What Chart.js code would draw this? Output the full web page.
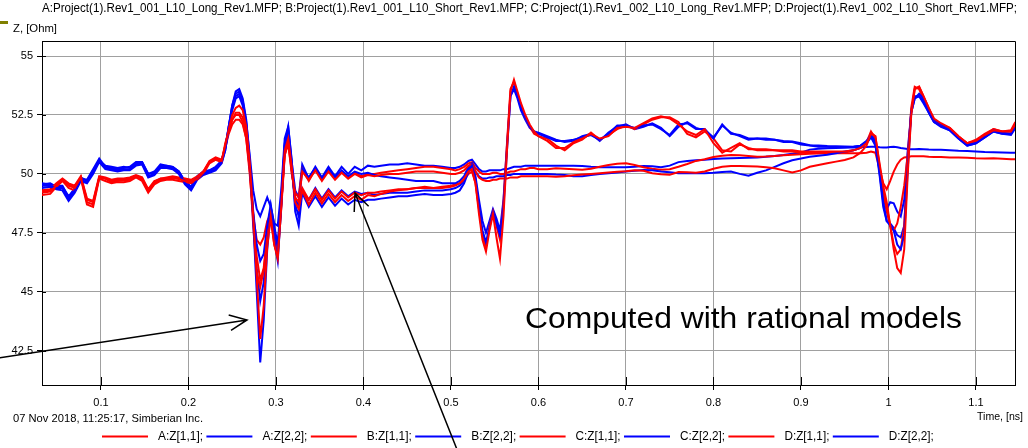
<!DOCTYPE html>
<html>
<head>
<meta charset="utf-8">
<title>TDR impedance</title>
<script src="https://cdn.jsdelivr.net/npm/chart.js@4.4.1/dist/chart.umd.min.js"></script>
<style>
  html, body { margin: 0; padding: 0; background: #fff; }
  canvas { display: block; }
</style>
</head>
<body>
<canvas id="tdr" width="1028" height="448"></canvas>
<script>
/* ── Time axis, ns (denser around the discontinuities) ─────── */
const time = [
  0.032, 0.042, 0.049, 0.056, 0.063, 0.070, 0.077, 0.084, 0.091, 0.098,
  0.105, 0.112, 0.119, 0.126, 0.133, 0.140, 0.147, 0.154, 0.161, 0.168,
  0.175, 0.182, 0.189, 0.196, 0.203, 0.210, 0.217, 0.224, 0.231, 0.238,
  0.242, 0.246, 0.250, 0.254, 0.258, 0.262, 0.266, 0.270, 0.274, 0.278,
  0.282, 0.286, 0.290, 0.294, 0.298, 0.302, 0.306, 0.310, 0.314, 0.318,
  0.322, 0.326, 0.330,
  0.3375, 0.345, 0.3525, 0.36, 0.3675, 0.375, 0.3825, 0.39, 0.3975, 0.405,
  0.4125, 0.42, 0.43, 0.44, 0.45, 0.46, 0.47,
  0.48, 0.49, 0.50, 0.505, 0.51, 0.515, 0.52, 0.524, 0.528, 0.532,
  0.536, 0.54, 0.544, 0.548, 0.552, 0.556, 0.56, 0.564, 0.568, 0.572,
  0.576, 0.58, 0.585, 0.59, 0.595, 0.60,
  0.61, 0.62, 0.63, 0.64, 0.65, 0.66, 0.67, 0.68, 0.69, 0.70,
  0.71, 0.72, 0.73, 0.74, 0.75, 0.76, 0.77, 0.78, 0.79, 0.80,
  0.81, 0.82, 0.83, 0.84, 0.85, 0.86, 0.87, 0.88, 0.89, 0.90,
  0.91, 0.92, 0.93, 0.94, 0.95,
  0.96, 0.968, 0.975, 0.98, 0.985, 0.99, 0.994, 0.998, 1.002, 1.006,
  1.010, 1.014, 1.018, 1.022, 1.026, 1.030, 1.035, 1.040, 1.046, 1.052,
  1.06, 1.07, 1.08, 1.09, 1.10, 1.11, 1.12, 1.13, 1.14, 1.145,
];

/* ── Z, Ohm ─────────────────────────────────────────────────── */
const zA11 = [
  49.2, 49.25, 49.5, 49.75, 49.5, 49.4, 49.85, 48.8, 48.7, 49.85, 49.8, 49.65, 49.7, 49.72, 49.75,
  49.9, 49.75, 49.25, 49.6, 49.75, 49.8, 49.82, 49.78, 49.7, 49.65, 49.8, 50.05, 50.5, 50.65, 50.55,
  51.2, 51.9, 52.5, 52.8, 52.9, 52.7, 52.0, 50.5, 48.2, 45.6, 43.0, 44.4, 46.9, 48.2, 47.0, 46.4,
  48.6, 51.0, 51.5, 50.3, 48.8, 48.5, 49.3,
  48.7, 49.2, 48.75, 49.15, 48.8, 49.1, 48.85, 49.05, 48.9, 49.1, 49.05, 49.15, 49.25, 49.3, 49.35, 49.4, 49.4,
  49.4, 49.4, 49.45, 49.5, 49.6, 49.8, 50.1, 50.2, 49.6, 48.3, 47.2, 46.7, 47.6, 48.3, 47.3, 46.4,
  48.2, 51.0, 53.5, 54.0, 53.5, 53.0, 52.5, 52.1, 51.8, 51.6,
  51.4, 51.1, 51.1, 51.35, 51.5, 51.7, 51.5, 51.6, 51.95, 52.0, 51.95, 52.15, 52.35, 52.45, 52.35,
  52.1, 51.8, 51.65, 51.9, 51.3, 50.9, 51.1, 51.3, 51.05, 51.05, 51.05, 51.0, 51.0, 51.0, 50.95,
  50.95, 50.95, 50.95, 50.95, 50.95,
  51.0, 51.1, 51.3, 51.7, 51.6, 50.4, 49.5, 48.8, 47.8, 46.8, 46.0, 45.8, 46.8, 50.0, 52.5,
  53.6, 53.7, 53.3, 52.8, 52.35, 52.15, 51.95, 51.6, 51.3, 51.4, 51.65, 51.85, 51.8, 51.8, 52.1,
];
const zA22 = [
  49.5, 49.5, 49.4, 49.4, 48.9, 49.3, 49.75, 49.65, 50.1, 50.6, 50.25, 50.2, 50.15, 50.2, 50.2,
  50.4, 50.45, 49.9, 50.0, 50.3, 50.3, 50.25, 50.05, 49.6, 49.35, 49.8, 50.0, 50.1, 50.2, 50.5,
  51.0, 52.0, 52.9, 53.5, 53.6, 53.2, 52.3, 50.6, 48.0, 45.0, 42.0, 43.8, 46.8, 48.4, 47.2, 46.3,
  48.6, 51.2, 52.0, 50.6, 48.4, 47.8, 49.2,
  48.6, 49.05, 48.6, 49.0, 48.65, 48.95, 48.7, 48.9, 48.8, 48.9, 48.9, 48.95, 49.0, 49.05, 49.05, 49.1, 49.15,
  49.1, 49.1, 49.15, 49.2, 49.3, 49.6, 50.1, 50.35, 49.8, 48.6, 47.6, 47.1, 47.7, 48.4, 47.9, 47.4,
  48.6, 51.0, 53.3, 53.7, 53.3, 52.8, 52.4, 52.0, 51.8, 51.7,
  51.55, 51.4, 51.4, 51.45, 51.55, 51.65, 51.45, 51.7, 52.05, 52.05, 51.95, 52.05, 52.1, 51.9, 51.65,
  52.1, 52.15, 51.9, 51.9, 51.5, 52.1, 51.7, 51.65, 51.5, 51.5, 51.5, 51.45, 51.4, 51.38, 51.3,
  51.22, 51.2, 51.18, 51.17, 51.16,
  51.15, 51.2, 51.4, 51.65, 51.4, 50.0, 48.8, 48.0, 47.8, 47.6, 47.0, 46.8, 47.4, 50.2, 52.6,
  53.2, 53.4, 53.2, 52.7, 52.3, 52.1, 51.9, 51.55, 51.25, 51.35, 51.6, 51.85, 51.75, 51.7, 52.0,
];
const zB11 = [
  49.1, 49.15, 49.45, 49.7, 49.4, 49.3, 49.8, 48.7, 48.6, 49.8, 49.7, 49.6, 49.65, 49.65, 49.7,
  49.85, 49.7, 49.2, 49.55, 49.7, 49.75, 49.75, 49.7, 49.65, 49.6, 49.75, 50.0, 50.45, 50.6, 50.5,
  51.3, 51.8, 52.3, 52.6, 52.6, 52.4, 51.7, 50.2, 47.8, 45.8, 45.2, 45.9, 47.3, 48.1, 47.0, 46.5,
  48.5, 50.8, 51.3, 50.1, 49.0, 48.8, 50.1,
  49.75, 50.15, 49.7, 50.1, 49.75, 50.05, 49.8, 50.0, 49.85, 49.95, 49.9, 49.95, 50.0, 50.0, 50.05, 50.1, 50.1,
  50.1, 50.05, 50.0, 50.0, 50.05, 50.15, 50.35, 50.4, 50.1, 49.85, 49.75, 49.7, 49.7, 49.75, 49.75, 49.8,
  49.8, 49.8, 49.85, 49.85, 49.85, 49.9, 49.9, 49.9, 49.9, 49.9,
  49.9, 49.88, 49.9, 49.94, 49.97, 50.0, 50.03, 50.06, 50.09, 50.11, 50.15, 50.13, 50.03, 49.98, 49.96,
  50.08, 50.07, 50.05, 50.1, 50.22, 50.3, 50.33, 50.33, 50.32, 50.31, 50.28, 50.24, 50.15, 50.06, 50.15,
  50.3, 50.38, 50.45, 50.52, 50.59,
  50.7, 50.9, 51.2, 51.75, 51.6, 50.3, 49.2, 48.4, 47.8, 47.6, 47.9, 48.6, 49.5, 50.8, 52.6,
  53.6, 53.7, 53.3, 52.8, 52.3, 52.1, 51.95, 51.6, 51.3, 51.4, 51.65, 51.9, 51.8, 51.8, 52.15,
];
const zB22 = [
  49.4, 49.45, 49.35, 49.3, 48.85, 49.2, 49.7, 49.6, 50.0, 50.5, 50.2, 50.15, 50.1, 50.15, 50.15,
  50.35, 50.4, 49.85, 49.95, 50.25, 50.25, 50.2, 50.0, 49.55, 49.3, 49.75, 49.95, 50.05, 50.15, 50.45,
  51.0, 51.9, 52.7, 53.2, 53.3, 52.9, 52.0, 50.3, 48.4, 47.0, 46.3, 46.6, 47.8, 48.7, 47.8, 47.0,
  49.0, 51.2, 51.6, 50.2, 48.9, 48.7, 50.2,
  49.85, 50.25, 49.8, 50.2, 49.85, 50.15, 49.9, 50.1, 50.0, 50.05, 49.95, 49.9, 49.85, 49.8, 49.75, 49.7, 49.7,
  49.7, 49.6, 49.6, 49.6, 49.7, 49.9, 50.3, 50.45, 50.1, 49.9, 49.8, 49.8, 49.85, 49.85, 49.9, 49.9,
  49.9, 49.95, 49.95, 50.0, 50.0, 50.0, 50.0, 50.0, 50.0, 50.0,
  50.0, 49.97, 49.95, 49.9, 49.9, 49.95, 50.0, 50.03, 50.06, 50.1, 50.13, 50.16, 50.15, 50.1, 50.07,
  50.03, 50.03, 50.03, 50.03, 50.05, 50.08, 50.1, 50.0, 49.92, 50.05, 50.15, 50.3, 50.45, 50.58, 50.65,
  50.73, 50.77, 50.81, 50.88, 50.95,
  51.0, 51.1, 51.3, 51.55, 51.2, 50.2, 49.0, 48.5, 48.8, 48.75, 48.4, 48.2, 48.9, 51.0, 52.6,
  53.2, 53.3, 53.1, 52.6, 52.2, 52.0, 51.85, 51.5, 51.2, 51.3, 51.55, 51.8, 51.7, 51.7, 52.0,
];
const zC11 = [
  49.3, 49.35, 49.6, 49.8, 49.6, 49.5, 49.9, 48.95, 48.85, 49.9, 49.85, 49.75, 49.8, 49.8, 49.85,
  49.95, 49.85, 49.35, 49.7, 49.8, 49.85, 49.9, 49.85, 49.8, 49.75, 49.9, 50.1, 50.55, 50.7, 50.6,
  51.1, 51.7, 52.1, 52.3, 52.3, 52.1, 51.5, 50.2, 48.3, 46.5, 45.5, 46.0, 47.5, 48.3, 47.2, 46.6,
  48.7, 50.9, 51.4, 50.2, 48.9, 48.6, 49.4,
  48.9, 49.35, 48.9, 49.3, 48.95, 49.25, 49.0, 49.2, 49.1, 49.2, 49.2, 49.25, 49.3, 49.35, 49.35, 49.4, 49.45,
  49.4, 49.45, 49.5, 49.55, 49.6, 49.75, 50.0, 50.1, 49.6, 48.5, 47.4, 46.9, 47.8, 48.4, 47.8, 47.2,
  48.8, 51.3, 53.6, 53.9, 53.4, 52.9, 52.4, 52.0, 51.7, 51.6,
  51.5, 51.2, 51.0, 51.3, 51.45, 51.75, 51.45, 51.65, 51.9, 52.05, 51.9, 52.1, 52.3, 52.4, 52.4,
  52.2, 51.7, 51.55, 51.8, 51.5, 51.0, 50.95, 51.25, 51.1, 51.0, 51.0, 51.0, 50.95, 50.95, 50.9,
  50.9, 50.9, 50.9, 50.9, 50.9,
  51.0, 51.1, 51.35, 51.8, 51.5, 50.2, 49.3, 48.6, 47.8, 47.0, 46.6, 46.8, 47.8, 50.4, 52.8,
  53.7, 53.6, 53.2, 52.7, 52.3, 52.1, 51.9, 51.55, 51.3, 51.45, 51.7, 51.9, 51.8, 51.85, 52.2,
];
const zC22 = [
  49.6, 49.55, 49.5, 49.5, 49.0, 49.4, 49.8, 49.75, 50.2, 50.65, 50.3, 50.25, 50.2, 50.25, 50.3,
  50.5, 50.5, 50.0, 50.05, 50.35, 50.35, 50.3, 50.1, 49.7, 49.45, 49.85, 50.05, 50.15, 50.25, 50.6,
  51.1, 52.0, 52.8, 53.3, 53.4, 53.0, 52.1, 50.4, 48.2, 46.0, 44.6, 45.4, 47.4, 48.6, 47.5, 46.8,
  48.8, 51.3, 51.8, 50.4, 48.7, 48.2, 49.3,
  48.9, 49.4, 48.95, 49.35, 49.0, 49.3, 49.05, 49.25, 49.15, 49.2, 49.1, 49.15, 49.2, 49.2, 49.2, 49.25, 49.3,
  49.3, 49.3, 49.35, 49.4, 49.5, 49.7, 50.2, 50.35, 49.9, 48.9, 48.0, 47.5, 48.0, 48.5, 48.1, 47.6,
  48.9, 51.2, 53.3, 53.6, 53.2, 52.7, 52.3, 51.95, 51.8, 51.75,
  51.6, 51.45, 51.35, 51.4, 51.6, 51.7, 51.4, 51.75, 52.0, 52.1, 51.9, 52.0, 52.15, 51.95, 51.6,
  52.0, 52.2, 51.95, 51.85, 51.55, 52.05, 51.75, 51.6, 51.45, 51.5, 51.45, 51.45, 51.35, 51.35, 51.25,
  51.2, 51.15, 51.15, 51.12, 51.12,
  51.15, 51.2, 51.35, 51.6, 51.3, 49.9, 48.6, 48.0, 47.9, 47.7, 47.4, 47.3, 47.8, 50.5, 52.7,
  53.3, 53.3, 53.0, 52.6, 52.2, 52.05, 51.85, 51.5, 51.2, 51.3, 51.55, 51.8, 51.7, 51.65, 51.95,
];
const zD11 = [
  49.25, 49.3, 49.55, 49.75, 49.55, 49.45, 49.85, 48.9, 48.8, 49.85, 49.8, 49.7, 49.75, 49.75, 49.8,
  49.9, 49.8, 49.3, 49.65, 49.8, 49.8, 49.85, 49.8, 49.75, 49.7, 49.85, 50.1, 50.5, 50.6, 50.6,
  51.2, 51.8, 52.3, 52.5, 52.5, 52.2, 51.5, 50.0, 48.2, 47.2, 47.0, 47.3, 48.0, 48.3, 47.5, 46.9,
  48.7, 50.8, 51.3, 50.0, 49.2, 49.0, 50.2,
  49.7, 50.2, 49.75, 50.15, 49.8, 50.1, 49.85, 50.05, 49.9, 50.0, 50.0, 50.05, 50.1, 50.15, 50.2, 50.25, 50.3,
  50.3, 50.25, 50.2, 50.15, 50.2, 50.3, 50.45, 50.5, 50.25, 50.1, 50.0, 50.0, 50.0, 50.05, 50.05, 50.0,
  50.0, 50.05, 50.1, 50.1, 50.15, 50.2, 50.2, 50.25, 50.25, 50.2,
  50.2, 50.24, 50.22, 50.2, 50.18, 50.22, 50.3, 50.38, 50.43, 50.45, 50.38, 50.28, 50.22, 50.18, 50.2,
  50.3, 50.42, 50.55, 50.62, 50.72, 50.77, 50.8, 50.79, 50.76, 50.73, 50.74, 50.76, 50.79, 50.81, 50.83,
  50.85, 50.87, 50.88, 50.88, 50.88,
  50.88, 50.88, 50.9, 50.95, 50.9, 50.2, 49.6, 49.35, 49.7, 50.1, 50.4, 50.6, 50.7, 50.72, 50.75,
  50.75, 50.75, 50.75, 50.73, 50.72, 50.72, 50.7, 50.7, 50.68, 50.66, 50.65, 50.66, 50.64, 50.62, 50.62,
];
const zD22 = [
  49.55, 49.6, 49.45, 49.45, 49.05, 49.35, 49.85, 49.7, 50.15, 50.55, 50.35, 50.3, 50.25, 50.3, 50.25,
  50.45, 50.5, 50.0, 50.1, 50.4, 50.35, 50.3, 50.1, 49.65, 49.45, 49.9, 50.1, 50.15, 50.3, 50.55,
  51.1, 52.0, 52.9, 53.4, 53.5, 53.1, 52.2, 50.8, 49.3, 48.5, 48.2, 48.6, 49.0, 48.6, 47.9, 47.8,
  49.3, 51.5, 52.0, 50.5, 49.3, 49.0, 50.4,
  49.8, 50.3, 49.85, 50.3, 49.9, 50.3, 50.0, 50.3, 50.15, 50.35, 50.3, 50.35, 50.4, 50.4, 50.45, 50.4, 50.35,
  50.35, 50.3, 50.25, 50.25, 50.3, 50.4, 50.55, 50.6, 50.4, 50.2, 50.1, 50.1, 50.15, 50.15, 50.15, 50.15,
  50.2, 50.2, 50.25, 50.3, 50.3, 50.3, 50.35, 50.35, 50.35, 50.35,
  50.35, 50.35, 50.35, 50.35, 50.33, 50.3, 50.28, 50.28, 50.28, 50.28, 50.3, 50.33, 50.32, 50.28, 50.35,
  50.5, 50.55, 50.58, 50.6, 50.63, 50.65, 50.66, 50.67, 50.68, 50.7, 50.73, 50.76, 50.8, 50.86, 50.9,
  51.03, 51.07, 51.09, 51.1, 51.12,
  51.12, 51.13, 51.14, 51.15, 51.15, 51.13, 51.12, 51.12, 51.14, 51.15, 51.13, 51.1, 51.08, 51.06, 51.05,
  51.05, 51.06, 51.05, 51.03, 51.02, 51.02, 51.0, 50.98, 50.97, 50.95, 50.93, 50.92, 50.91, 50.9, 50.9,
];

const seriesNames  = ['A:Z[1,1];', 'A:Z[2,2];', 'B:Z[1,1];', 'B:Z[2,2];',
                      'C:Z[1,1];', 'C:Z[2,2];', 'D:Z[1,1];', 'D:Z[2,2];'];
const seriesValues = [zA11, zA22, zB11, zB22, zC11, zC22, zD11, zD22];
const seriesColors = ['#ff0000', '#0000ff', '#ff0000', '#0000ff',
                      '#ff0000', '#0000ff', '#ff0000', '#0000ff'];

const xTicks      = [0.1, 0.2, 0.3, 0.4, 0.5, 0.6, 0.7, 0.8, 0.9, 1.0, 1.1];
const xTickLabels = ['0.1', '0.2', '0.3', '0.4', '0.5', '0.6', '0.7', '0.8', '0.9', '1', '1.1'];
const yTicks      = [42.5, 45, 47.5, 50, 52.5, 55];
const yTickLabels = ['42.5', '45', '47.5', '50', '52.5', '55'];

const fileList = 'A:Project(1).Rev1_001_L10_Long_Rev1.MFP; B:Project(1).Rev1_001_L10_Short_Rev1.MFP; ' +
                 'C:Project(1).Rev1_002_L10_Long_Rev1.MFP; D:Project(1).Rev1_002_L10_Short_Rev1.MFP;';
const stamp = '07 Nov 2018, 11:25:17, Simberian Inc.';
const note  = 'Computed with rational models';

/* ── Helpers ────────────────────────────────────────────────── */
const FONT = '"Liberation Sans", Arial, sans-serif';

// text squeezed/stretched to a given width
function fitText(ctx, str, x, y, width, size) {
    ctx.font = size + 'px ' + FONT;
    const w = ctx.measureText(str).width;
    ctx.save();
    ctx.translate(x, y);
    ctx.scale(width / w, 1);
    ctx.fillText(str, 0, 0);
    ctx.restore();
}

function arrow(ctx, x0, y0, x1, y1) {
    const a = Math.atan2(y1 - y0, x1 - x0);
    const len = 19, spread = 0.42;
    ctx.beginPath();
    ctx.moveTo(x0, y0);
    ctx.lineTo(x1, y1);
    ctx.moveTo(x1 - len * Math.cos(a - spread), y1 - len * Math.sin(a - spread));
    ctx.lineTo(x1, y1);
    ctx.lineTo(x1 - len * Math.cos(a + spread), y1 - len * Math.sin(a + spread));
    ctx.stroke();
}

/* ── Frame, inner ticks, captions, legend, callouts ─────────── */
const overlay = {
    id: 'overlay',
    afterDraw(chart) {
        const { ctx, chartArea: a, scales } = chart;
        ctx.save();

        ctx.strokeStyle = '#000';
        ctx.lineWidth = 1;
        ctx.beginPath();
        ctx.moveTo(a.left, a.top + 0.5);
        ctx.lineTo(a.right + 0.5, a.top + 0.5);
        ctx.lineTo(a.right + 0.5, a.bottom);
        // tick marks continue a little inside the frame
        xTicks.forEach(v => {
            const px = Math.round(scales.x.getPixelForValue(v)) + 0.5;
            ctx.moveTo(px, a.bottom - 8);
            ctx.lineTo(px, a.bottom);
        });
        yTicks.forEach(v => {
            const py = Math.round(scales.y.getPixelForValue(v)) + 0.5;
            ctx.moveTo(a.left, py);
            ctx.lineTo(a.left + 4, py);
        });
        ctx.stroke();

        ctx.fillStyle = '#000';
        ctx.textBaseline = 'middle';
        fitText(ctx, fileList, 42, 9, 975, 12);
        fitText(ctx, 'Z, [Ohm]', 13, 29, 44, 11);
        fitText(ctx, stamp, 13, 419, 190, 11);
        fitText(ctx, 'Time, [ns]', 977, 417, 46, 11);

        ctx.fillStyle = '#808000';
        ctx.fillRect(0, 21, 8, 3);

        // legend
        chart.data.datasets.forEach((ds, i) => {
            const x0 = 102 + i * 104.4;
            ctx.strokeStyle = ds.borderColor;
            ctx.lineWidth = 2;
            ctx.beginPath();
            ctx.moveTo(x0, 436.5);
            ctx.lineTo(x0 + 46, 436.5);
            ctx.stroke();
            ctx.fillStyle = '#000';
            fitText(ctx, ds.label, x0 + 56, 437, 45, 12);
        });

        ctx.fillStyle = '#000';
        ctx.textBaseline = 'alphabetic';
        fitText(ctx, note, 525, 328, 437, 29);

        ctx.strokeStyle = '#000';
        ctx.lineWidth = 1.5;
        arrow(ctx, -2, 358, 247, 320);
        arrow(ctx, 458, 452, 355, 193);

        ctx.restore();
    },
};

/* ── Chart ──────────────────────────────────────────────────── */
Chart.defaults.font.family = FONT;
Chart.defaults.font.size = 11;
Chart.defaults.color = '#000';

const GRID = {
    color       : '#a0a0a0',
    lineWidth   : 1,
    tickColor   : '#000',
    tickLength  : 5,
};

new Chart(document.getElementById('tdr'), {
    type : 'line',
    data : {
        datasets : seriesValues.map((vals, i) => ({
            label       : seriesNames[i],
            data        : time.map((t, k) => ({ x: t, y: vals[k] })),
            borderColor : seriesColors[i],
            borderWidth : 2,
            pointRadius : 0,
            tension     : 0,
            fill        : false,
        })),
    },
    options : {
        responsive       : false,
        animation        : false,
        devicePixelRatio : 1,
        layout  : { padding: { left: 0, top: 41, right: 13, bottom: 0 } },
        plugins : {
            legend  : { display: false },
            tooltip : { enabled: false },
        },
        scales : {
            x : {
                type   : 'linear',
                min    : 0.0326,
                max    : 1.1446,
                grid   : GRID,
                border : { color: '#000', width: 1 },
                ticks  : {
                    padding  : 6,
                    callback : (v) => xTickLabels[xTicks.findIndex(t => Math.abs(t - v) < 1e-6)],
                },
                afterBuildTicks : (axis) => { axis.ticks = xTicks.map(v => ({ value: v })); },
                afterFit        : (axis) => { axis.height = 63; },
            },
            y : {
                min    : 41.04,
                max    : 55.64,
                grid   : GRID,
                border : { color: '#000', width: 1 },
                ticks  : {
                    padding  : 4,
                    callback : (v) => yTickLabels[yTicks.indexOf(v)],
                },
                afterBuildTicks : (axis) => { axis.ticks = yTicks.map(v => ({ value: v })); },
                afterFit        : (axis) => { axis.width = 42; },
            },
        },
    },
    plugins : [overlay],
});
</script>
</body>
</html>
